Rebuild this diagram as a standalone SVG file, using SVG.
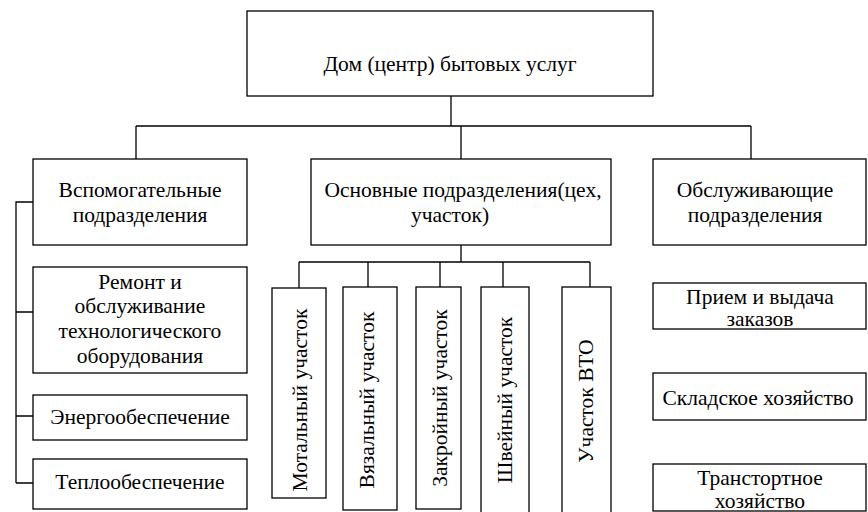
<svg xmlns="http://www.w3.org/2000/svg" width="868" height="512" viewBox="0 0 868 512">
  <style>
    .box { fill: #fff; stroke: #000; stroke-width: 1.3; }
    .ln { fill: none; stroke: #000; stroke-width: 1.3; }
  </style>
  <rect width="868" height="512" fill="#fff"/>

  <!-- connectors -->
  <g id="connectors" class="ln">
    <path d="M451 96 V126 M136 126 H751 M136 126 V159 M461 126 V159 M751 126 V159"/>
    <path d="M33 202 H16 V483 M16 312 H33 M16 416 H33 M16 483 H33"/>
    <path d="M461 245 V262 M299 262 H590 M299 262 V288 M368 262 V287 M440 262 V287 M503 262 V287 M590 262 V287"/>
  </g>

  <g text-anchor="middle" fill="#000">
    <g id="root">
      <rect class="box" x="247" y="11" width="406" height="85"/>
      <text x="450" y="71" font-family="Liberation Serif" font-size="21.5">Дом (центр) бытовых услуг</text>
    </g>

    <g id="aux">
      <rect class="box" x="33" y="159" width="214" height="86"/>
      <text x="140" y="197" font-family="Liberation Serif" font-size="21.5">Вспомогательные</text>
      <text x="140" y="222" font-family="Liberation Serif" font-size="21.5">подразделения</text>
    </g>
    <g id="main">
      <rect class="box" x="311" y="159" width="300" height="86"/>
      <text x="463" y="197" font-family="Liberation Serif" font-size="21.5">Основные подразделения(цех,</text>
      <text x="450" y="222" font-family="Liberation Serif" font-size="21.5">участок)</text>
    </g>
    <g id="service">
      <rect class="box" x="653" y="159" width="213" height="86"/>
      <text x="755" y="197" font-family="Liberation Serif" font-size="21.5">Обслуживающие</text>
      <text x="755" y="222" font-family="Liberation Serif" font-size="21.5">подразделения</text>
    </g>

    <g id="repair">
      <rect class="box" x="33" y="267" width="214" height="106"/>
      <text x="140" y="289" font-family="Liberation Serif" font-size="21.5">Ремонт и</text>
      <text x="140" y="313" font-family="Liberation Serif" font-size="21.5">обслуживание</text>
      <text x="140" y="338" font-family="Liberation Serif" font-size="21.5">технологического</text>
      <text x="140" y="363" font-family="Liberation Serif" font-size="21.5">оборудования</text>
    </g>
    <g id="energy">
      <rect class="box" x="33" y="395" width="214" height="45"/>
      <text x="140" y="424" font-family="Liberation Serif" font-size="21.5">Энергообеспечение</text>
    </g>
    <g id="heat">
      <rect class="box" x="33" y="459" width="214" height="50"/>
      <text x="140" y="489" font-family="Liberation Serif" font-size="21.5">Теплообеспечение</text>
    </g>

    <g id="winding">
      <rect class="box" x="272" y="288" width="54" height="210"/>
      <text transform="translate(307 400) rotate(-90)" font-family="Liberation Serif" font-size="21.5">Мотальный участок</text>
    </g>
    <g id="knitting">
      <rect class="box" x="343" y="287" width="54" height="223"/>
      <text transform="translate(374 400) rotate(-90)" font-family="Liberation Serif" font-size="21.5">Вязальный участок</text>
    </g>
    <g id="cutting">
      <rect class="box" x="416" y="287" width="45" height="222"/>
      <text transform="translate(447 398) rotate(-90)" font-family="Liberation Serif" font-size="21.5">Закройный участок</text>
    </g>
    <g id="sewing">
      <rect class="box" x="481" y="287" width="48" height="235"/>
      <text transform="translate(512 400) rotate(-90)" font-family="Liberation Serif" font-size="21.5">Швейный участок</text>
    </g>
    <g id="vto">
      <rect class="box" x="562" y="287" width="49" height="235"/>
      <text transform="translate(593 401) rotate(-90)" font-family="Liberation Serif" font-size="21.5">Участок ВТО</text>
    </g>

    <g id="orders">
      <rect class="box" x="653" y="283" width="213" height="46"/>
      <text x="760" y="304" font-family="Liberation Serif" font-size="21.5">Прием и выдача</text>
      <text x="760" y="326" font-family="Liberation Serif" font-size="21.5">заказов</text>
    </g>
    <g id="storage">
      <rect class="box" x="653" y="373" width="213" height="47"/>
      <text x="758" y="405" font-family="Liberation Serif" font-size="21.5">Складское хозяйство</text>
    </g>
    <g id="transport">
      <rect class="box" x="653" y="464" width="213" height="47"/>
      <text x="760" y="485" font-family="Liberation Serif" font-size="21.5">Транстортное</text>
      <text x="760" y="508" font-family="Liberation Serif" font-size="21.5">хозяйство</text>
    </g>
  </g>
</svg>
